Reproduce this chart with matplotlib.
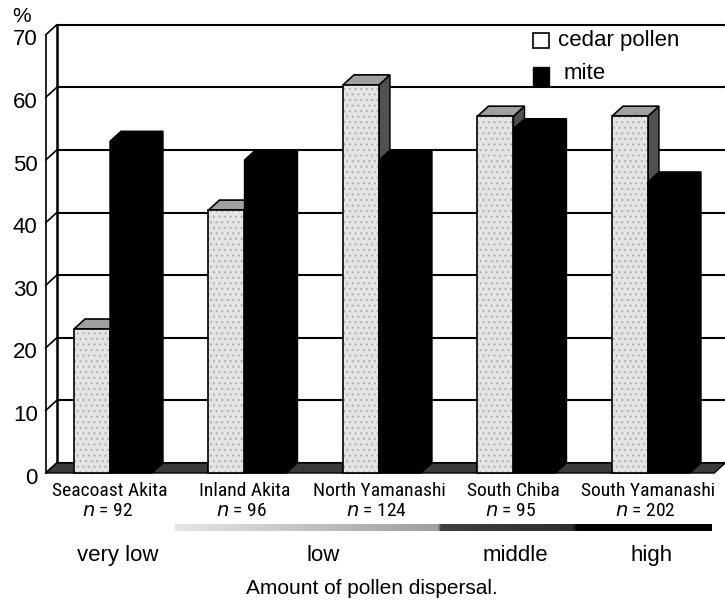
import numpy as np
import matplotlib
matplotlib.use("Agg")
import matplotlib.pyplot as plt
from matplotlib.patches import Polygon, Rectangle

plt.rcParams['font.family'] = ['Liberation Sans', 'DejaVu Sans']
plt.rcParams['hatch.linewidth'] = 0.8

NARROW = ['Liberation Sans Narrow', 'Roboto Condensed', 'Noto Sans', 'DejaVu Sans']

# ---- data ----
regions = ["Seacoast Akita", "Inland Akita", "North Yamanashi", "South Chiba", "South Yamanashi"]
n_values = [92, 96, 124, 95, 202]
cedar_pollen = [23, 42, 62, 57, 57]
mite = [53, 50, 50, 55, 46.5]
y_ticks = [0, 10, 20, 30, 40, 50, 60, 70]
dispersal_labels = ["very low", "low", "middle", "high"]
series_names = ["cedar pollen", "mite"]

# ---- geometry (pixel-matched) ----
W, H = 725, 601
fig = plt.figure(figsize=(W / 100, H / 100), dpi=100)
ax = fig.add_axes([0, 0, 1, 1])
PX = 134.5      # px per category
PY = 6.26       # px per percent
X0, Y0 = 113, 473
ax.axis('off')

DX = 11 / PX
DY = 10 / PY
left = -0.5
right_front = 4.47
ymax = 70

# back wall gridlines
for v in y_ticks:
    ax.plot([left + DX, right_front + DX + 0.05], [v + DY, v + DY], color='black', lw=1.5, zorder=1,
            solid_capstyle='butt')
    ax.plot([left, left + DX], [v, v + DY], color='black', lw=1.2, zorder=1)
    ax.text(left - 0.06, v - 0.8, str(v), ha='right', va='center', fontsize=16)
# walls
ax.plot([left, left], [0, ymax], color='black', lw=1.2, zorder=1)
ax.plot([left + DX, left + DX], [DY, ymax + DY], color='black', lw=1.8, zorder=1)
ax.text(-0.68, 72.9, "%", ha='center', va='center', fontsize=15)

# floor
floor = Polygon([(left, 0), (right_front, 0), (right_front + DX, DY), (left + DX, DY)],
                closed=True, facecolor='#3a3a3a', edgecolor='black', lw=1, zorder=2)
ax.add_patch(floor)

# bars
cw = 36 / PX
mw = 42 / PX
for i, (c, m) in enumerate(zip(cedar_pollen, mite)):
    x0 = i - 0.29
    # cedar bar: side, top, front
    ax.add_patch(Polygon([(x0 + cw, 0), (x0 + cw + DX, DY), (x0 + cw + DX, c + DY), (x0 + cw, c)],
                         facecolor='#505050', edgecolor='black', lw=1, zorder=3))
    ax.add_patch(Polygon([(x0, c), (x0 + cw, c), (x0 + cw + DX, c + DY), (x0 + DX, c + DY)],
                         facecolor='#a0a0a0', edgecolor='black', lw=1.2, zorder=3))
    ax.add_patch(Rectangle((x0, 0), cw, c, facecolor='#e4e4e4', edgecolor='#b0b0b0', lw=0,
                           hatch='...', zorder=3))
    ax.add_patch(Rectangle((x0, 0), cw, c, facecolor='none', edgecolor='black', lw=1.2, zorder=3))
    # mite bar
    x1 = x0 + cw
    ax.add_patch(Polygon([(x1, 0), (x1 + mw, 0), (x1 + mw + DX, DY), (x1 + mw + DX, m + DY),
                          (x1 + DX, m + DY), (x1, m)],
                         facecolor='black', edgecolor='black', lw=1, zorder=4))
    # labels
    ax.text(x1, -2.9, regions[i], ha='center', va='center', fontsize=14,
            family=NARROW, fontstretch='condensed')
    ax.text(x1 - 0.02, -6.0, r"$n$ = %d" % n_values[i], ha='center', va='center', fontsize=14,
            family=NARROW, fontstretch='condensed')

# legend
ax.add_patch(Rectangle((3.123, 67.9), 0.119, 2.4, facecolor='white', edgecolor='black', lw=1.2, zorder=5))
ax.text(3.31, 69.1, series_names[0], ha='left', va='center', fontsize=16)
ax.add_patch(Rectangle((3.123, 61.98), 0.119, 2.88, facecolor='black', edgecolor='black', lw=1, zorder=5))
ax.text(3.35, 63.8, series_names[1], ha='left', va='center', fontsize=16)

# dispersal gradient bar
xs = np.linspace(0, 1, 600)
shade = np.interp(xs, [0, 0.49, 0.495, 0.74, 0.75, 1], [0.9, 0.62, 0.25, 0.18, 0.0, 0.0])
grad = np.tile(shade, (2, 1))
ax.imshow(grad, cmap='gray', vmin=0, vmax=1, aspect='auto',
          extent=[(175 - X0) / PX, (712 - X0) / PX, (Y0 - 531) / PY, (Y0 - 525) / PY], zorder=2)
ax.set_xlim(-X0 / PX, (W - X0) / PX)
ax.set_ylim((Y0 - H) / PY, Y0 / PY)

for lab, px in zip(dispersal_labels, [118, 323, 515, 652]):
    ax.text((px - X0) / PX, -13.2, lab, ha='center', va='center', fontsize=16)
ax.text((372 - X0) / PX, -18.4, "Amount of pollen dispersal.", ha='center', va='center', fontsize=15)

fig.savefig("out.png", dpi=100)
